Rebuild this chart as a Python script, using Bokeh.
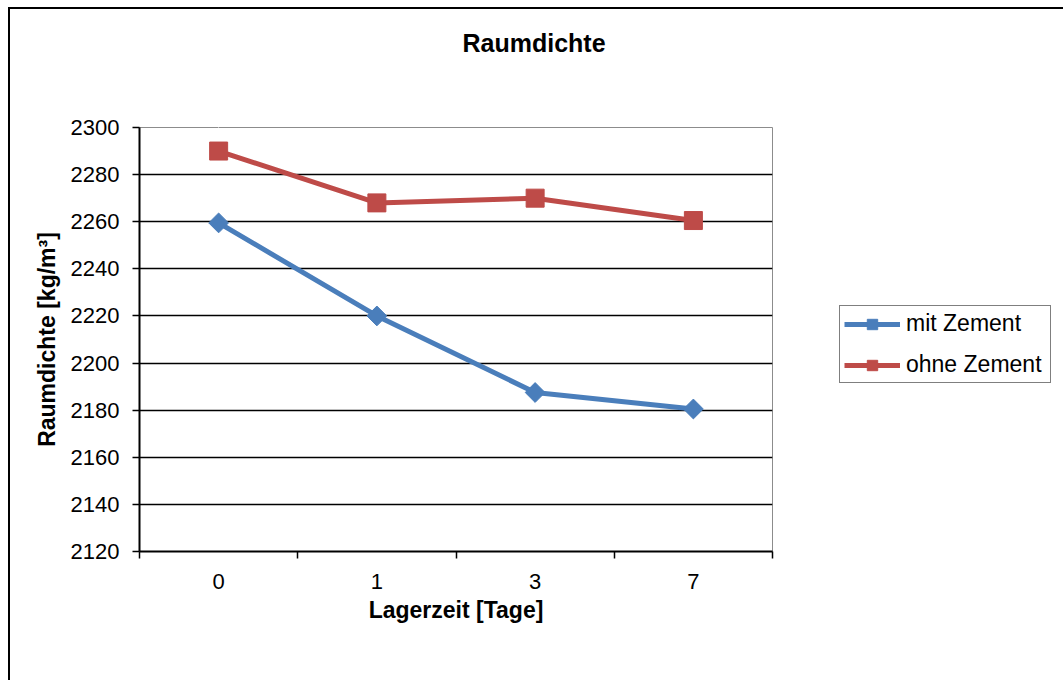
from bokeh.plotting import figure
from bokeh.models import (FixedTicker, Legend, LegendItem, Title, Range1d,
                          ColumnDataSource, LinearAxis)
from bokeh.layouts import row
from bokeh.embed import file_html
from bokeh.resources import INLINE
import math

# ---- data ----
categories = ["0", "1", "3", "7"]
mit_zement = [2259.5, 2220, 2187.5, 2180.5]
ohne_zement = [2290, 2268, 2270, 2260.5]
y_ticks = [2120, 2140, 2160, 2180, 2200, 2220, 2240, 2260, 2280, 2300]
series_names = ["mit Zement", "ohne Zement"]
title_text = "Raumdichte"
x_label = "Lagerzeit [Tage]"
y_label = "Raumdichte [kg/m³]"

FONT = "Liberation Sans"
BLUE = "#4A7EBB"
RED = "#BE4B48"

xs = [i + 0.5 for i in range(len(categories))]
src = ColumnDataSource(dict(x=xs, mit=mit_zement, ohne=ohne_zement))

# ---------------- main chart ----------------
p = figure(width=828, height=671, output_backend="svg", toolbar_location=None,
           x_range=Range1d(0, len(categories)), y_range=Range1d(y_ticks[0], y_ticks[-1]),
           min_border_left=129, min_border_right=66, min_border_top=118,
           min_border_bottom=129, title=None)
p.background_fill_color = "white"
p.border_fill_color = "white"
p.outline_line_color = "#8C8C8C"
p.outline_line_width = 1

# x axis: labels at category centres, ticks at category boundaries
xa = p.xaxis[0]
xa.ticker = FixedTicker(ticks=xs, minor_ticks=list(range(len(categories) + 1)))
xa.major_label_overrides = {x: c for x, c in zip(xs, categories)}
xa.major_tick_in = 0
xa.major_tick_out = 0
xa.minor_tick_in = 0
xa.minor_tick_out = 7
xa.minor_tick_line_color = "black"
xa.minor_tick_line_width = 1.5
xa.axis_line_color = "black"
xa.axis_line_width = 2
xa.major_label_text_font = FONT
xa.major_label_text_font_size = "22px"
xa.major_label_text_color = "black"
xa.major_label_standoff = 15
xa.axis_label = x_label
xa.axis_label_text_font = FONT
xa.axis_label_text_font_size = "23px"
xa.axis_label_text_font_style = "bold"
xa.axis_label_text_color = "black"
xa.axis_label_standoff = 5

ya = p.yaxis[0]
ya.ticker = FixedTicker(ticks=y_ticks, minor_ticks=[])
ya.major_tick_in = 0
ya.major_tick_out = 7
ya.major_tick_line_color = "black"
ya.major_tick_line_width = 1.5
ya.axis_line_color = "black"
ya.axis_line_width = 2
ya.major_label_text_font = FONT
ya.major_label_text_font_size = "22px"
ya.major_label_text_color = "black"
ya.major_label_standoff = 13
ya.axis_label = y_label
ya.axis_label_text_font = FONT
ya.axis_label_text_font_size = "23px"
ya.axis_label_text_font_style = "bold"
ya.axis_label_text_color = "black"
ya.axis_label_standoff = 8

p.xgrid.visible = False
p.ygrid.ticker = FixedTicker(ticks=y_ticks[1:-1], minor_ticks=[])
p.ygrid.grid_line_color = "black"
p.ygrid.grid_line_width = 1.5

l1 = p.line("x", "mit", source=src, line_width=5, line_color=BLUE)
s1 = p.scatter("x", "mit", source=src, marker="square", angle=math.pi / 4, size=14,
               fill_color=BLUE, line_color=BLUE)
l2 = p.line("x", "ohne", source=src, line_width=5, line_color=RED)
s2 = p.scatter("x", "ohne", source=src, marker="square", size=18,
               fill_color=RED, line_color=RED)

# blank (white) spacer above the plot area, then the chart title
spacer = LinearAxis(ticker=FixedTicker(ticks=[xs[0]], minor_ticks=[]),
                    major_tick_out=60, major_tick_in=0, minor_tick_out=0,
                    minor_tick_in=0, major_label_standoff=0,
                    major_label_text_font_size="0px",
                    major_label_overrides={xs[0]: ""},
                    axis_line_color=None, major_tick_line_color="white",
                    major_tick_line_width=1, minor_tick_line_color=None)
p.add_layout(spacer, "above")
title = Title(text=title_text, align="left", offset=323, standoff=22,
              text_font=FONT, text_font_size="25px", text_font_style="bold",
              text_color="black")
p.add_layout(title, "above")

# ---------------- legend panel ----------------
q = figure(width=225, height=671, output_backend="svg", toolbar_location=None,
           x_range=Range1d(0, 1), y_range=Range1d(0, 1), x_axis_type=None,
           y_axis_type=None, min_border=0, title=None)
q.grid.visible = False
q.outline_line_color = None
q.background_fill_color = "white"
q.border_fill_color = "white"
ql1 = q.line("x", "mit", source=src, line_width=5, line_color=BLUE)
qs1 = q.scatter("x", "mit", source=src, marker="square", angle=math.pi / 4, size=14,
                fill_color=BLUE, line_color=BLUE)
ql2 = q.line("x", "ohne", source=src, line_width=5, line_color=RED)
qs2 = q.scatter("x", "ohne", source=src, marker="square", size=18,
                fill_color=RED, line_color=RED)

legend = Legend(items=[LegendItem(label=series_names[0], renderers=[ql1, qs1]),
                       LegendItem(label=series_names[1], renderers=[ql2, qs2])],
                location=(1, 168), orientation="vertical")
legend.border_line_color = "black"
legend.border_line_width = 1.5
legend.background_fill_color = "white"
legend.background_fill_alpha = 1
legend.label_text_font = FONT
legend.label_text_font_size = "23px"
legend.label_text_color = "black"
legend.glyph_width = 56
legend.glyph_height = 26
legend.label_height = 26
legend.label_width = 140
legend.spacing = 14
legend.padding = 4
legend.margin = 0
legend.label_standoff = 6
q.add_layout(legend, "center")

lay = row(p, q)
lay.styles = {"margin-left": "8px", "margin-top": "7px",
              "border-left": "2px solid black", "border-top": "2px solid black"}

open("out.html", "w").write(file_html(lay, INLINE))
